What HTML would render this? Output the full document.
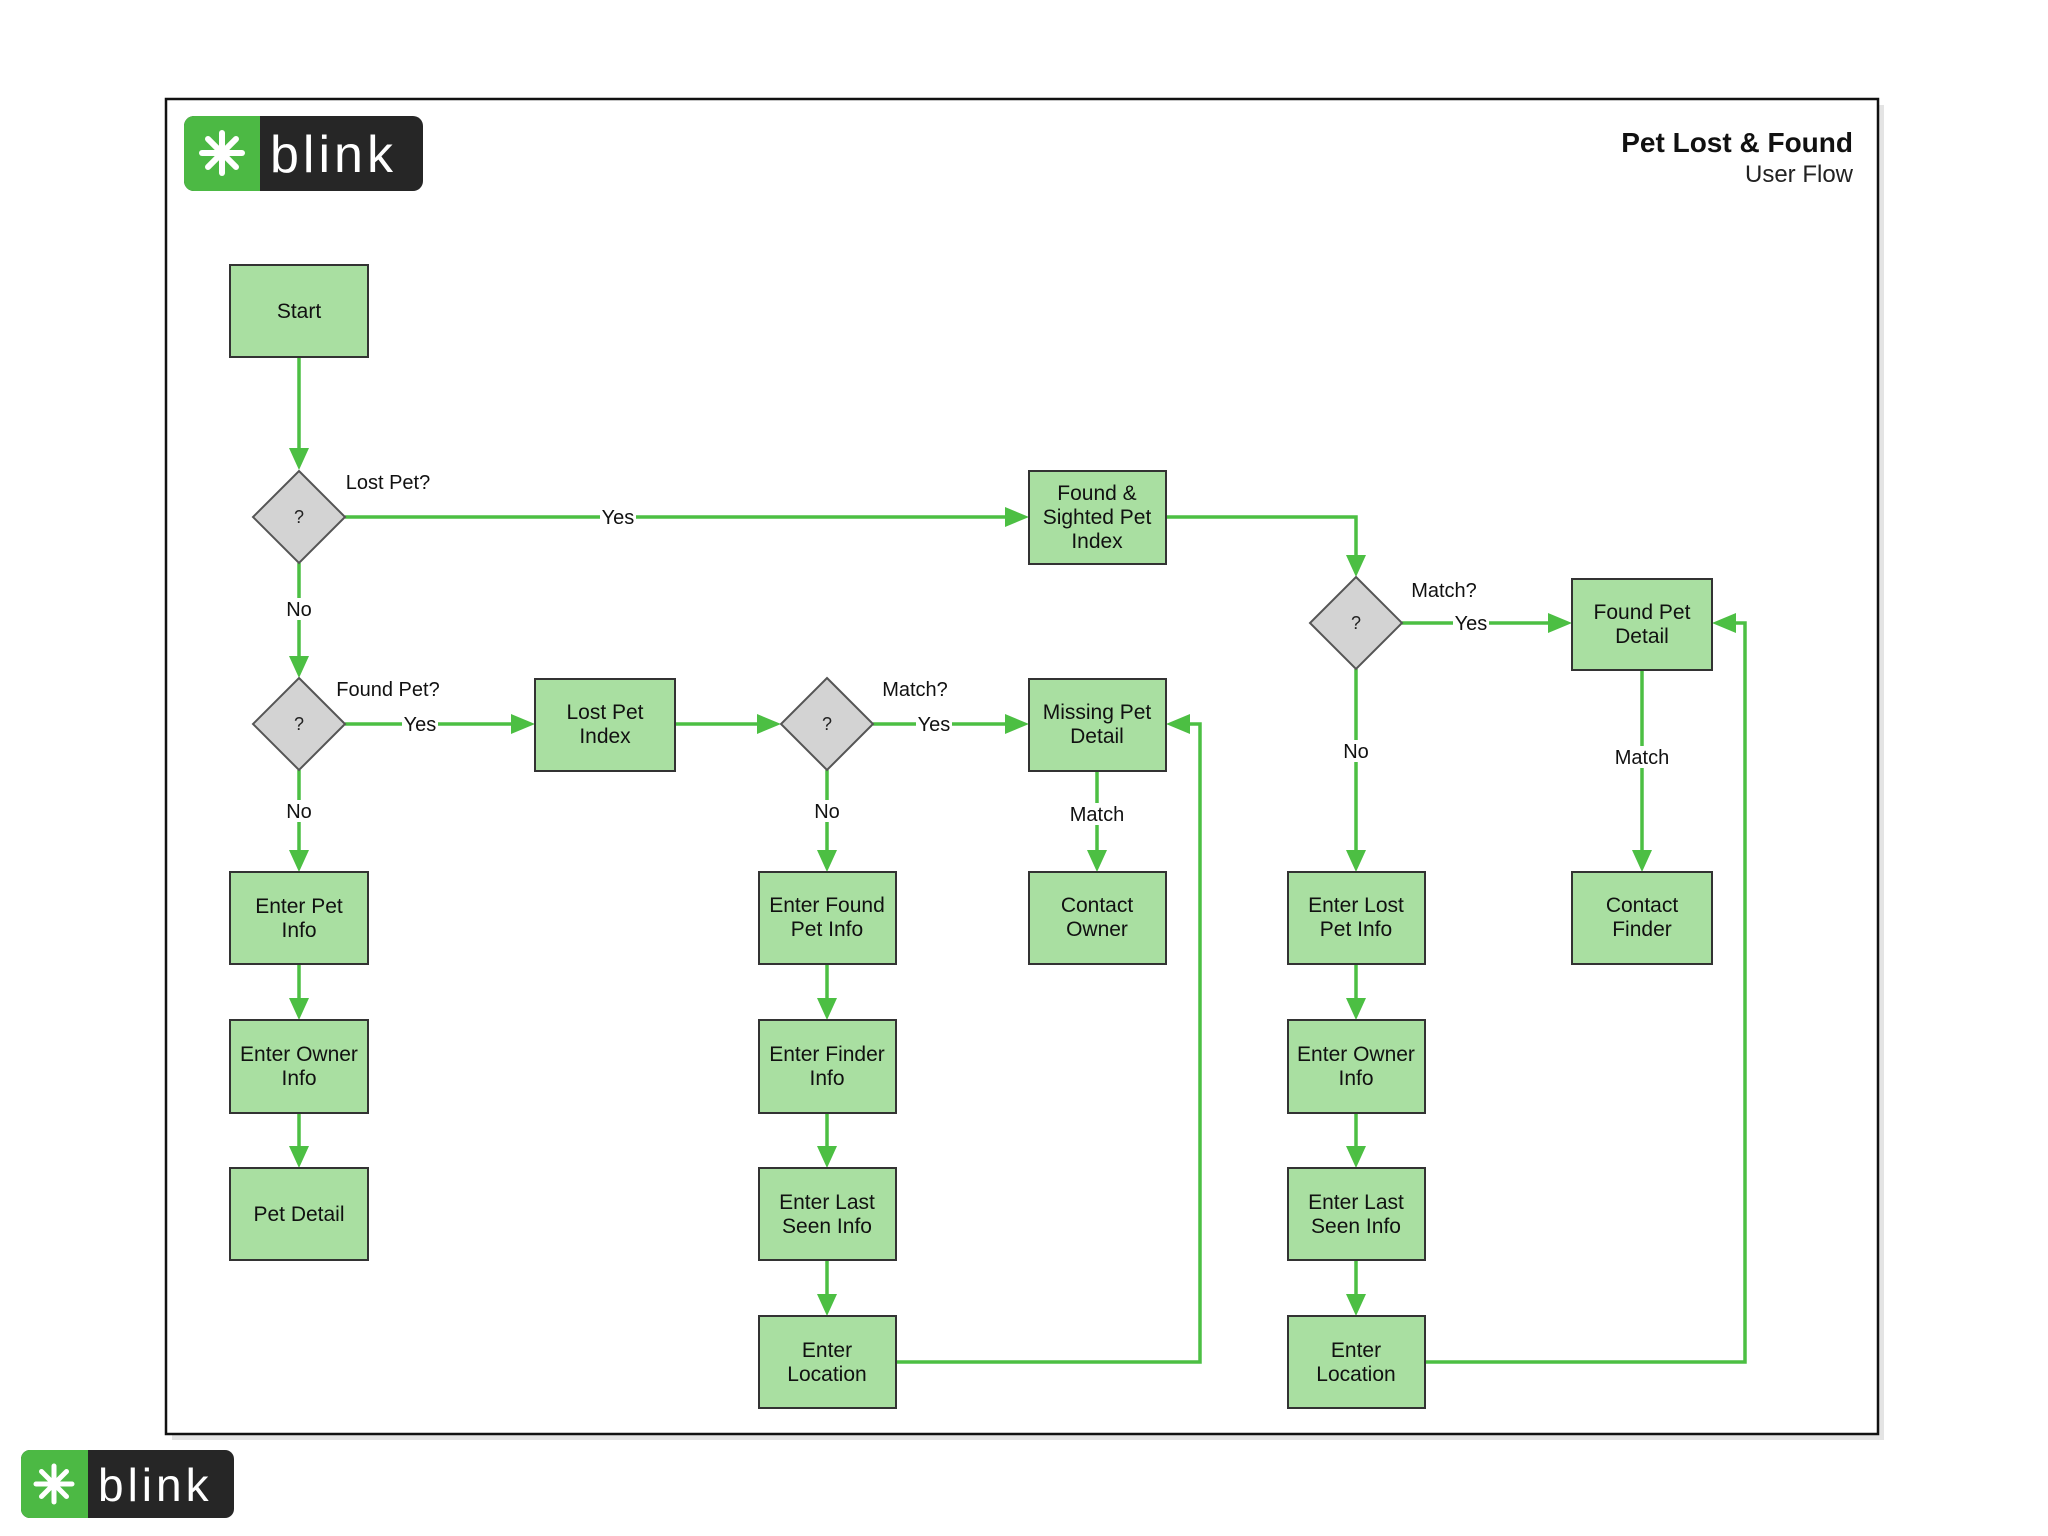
<!DOCTYPE html>
<html><head><meta charset="utf-8"><style>
html,body{margin:0;padding:0;background:#fff;}
svg{display:block;}
text{font-family:"Liberation Sans",sans-serif;}
</style></head><body>
<svg width="2048" height="1536" viewBox="0 0 2048 1536" xmlns="http://www.w3.org/2000/svg">
<defs>
<marker id="a" viewBox="0 0 10 10" refX="9" refY="5" markerWidth="7" markerHeight="7" markerUnits="userSpaceOnUse" orient="auto">
</marker>
</defs>
<rect x="0" y="0" width="2048" height="1536" fill="#fff"/>
<!-- frame shadow -->
<rect x="172" y="105" width="1712" height="1335" fill="#e4e4e4"/>
<rect x="166" y="99" width="1712" height="1335" fill="#fff" stroke="#111" stroke-width="2.5"/>
<!-- logo top -->
<g>
<rect x="184" y="116" width="239" height="75" rx="10" fill="#262626"/>
<path d="M194 116 H260 V191 H194 A10 10 0 0 1 184 181 V126 A10 10 0 0 1 194 116Z" fill="#4cb944"/>
<g stroke="#fff" stroke-width="6" stroke-linecap="round" transform="translate(222,153)">
<line x1="0" y1="-20" x2="0" y2="20"/><line x1="-20" y1="0" x2="20" y2="0"/>
<line x1="-14" y1="-14" x2="14" y2="14"/><line x1="-14" y1="14" x2="14" y2="-14"/>
</g>
<text x="270" y="172" font-size="52" fill="#fff" letter-spacing="4" font-family="DejaVu Sans,sans-serif">blink</text>
</g>
<!-- logo bottom -->
<g>
<rect x="21" y="1450" width="213" height="68" rx="9" fill="#262626"/>
<path d="M30 1450 H88 V1518 H30 A9 9 0 0 1 21 1509 V1459 A9 9 0 0 1 30 1450Z" fill="#4cb944"/>
<g stroke="#fff" stroke-width="5" stroke-linecap="round" transform="translate(54,1484)">
<line x1="0" y1="-18" x2="0" y2="18"/><line x1="-18" y1="0" x2="18" y2="0"/>
<line x1="-12.5" y1="-12.5" x2="12.5" y2="12.5"/><line x1="-12.5" y1="12.5" x2="12.5" y2="-12.5"/>
</g>
<text x="98" y="1501" font-size="46" fill="#fff" letter-spacing="4" font-family="DejaVu Sans,sans-serif">blink</text>
</g>
<!-- title -->
<text x="1853" y="152" font-size="28" font-weight="bold" text-anchor="end" fill="#111">Pet Lost &amp; Found</text>
<text x="1853" y="182" font-size="24" text-anchor="end" fill="#222">User Flow</text>

<!-- connectors -->
<g stroke="#4cbf43" stroke-width="3.5" fill="none">
<path d="M299 357 V462"/>
<path d="M345 517 H1019"/>
<path d="M1166 517 H1356 V567"/>
<path d="M299 563 V668"/>
<path d="M345 724 H525"/>
<path d="M675 724 H771"/>
<path d="M873 724 H1019"/>
<path d="M299 770 V862"/>
<path d="M827 770 V862"/>
<path d="M1097 771 V862"/>
<path d="M1402 623 H1562"/>
<path d="M1356 669 V862"/>
<path d="M1642 670 V862"/>
<path d="M299 964 V1010"/><path d="M299 1113 V1158"/>
<path d="M827 964 V1010"/><path d="M827 1113 V1158"/><path d="M827 1260 V1306"/>
<path d="M1356 964 V1010"/><path d="M1356 1113 V1158"/><path d="M1356 1260 V1306"/>
<path d="M896 1362 H1200 V724 H1176"/>
<path d="M1425 1362 H1745 V623 H1722"/>
</g>
<g fill="#4cbf43">
<!-- down arrows: tip at y -->
<path d="M289 448 L309 448 L299 470Z"/>
<path d="M289 656 L309 656 L299 678Z"/>
<path d="M289 850 L309 850 L299 872Z"/>
<path d="M817 850 L837 850 L827 872Z"/>
<path d="M1087 850 L1107 850 L1097 872Z"/>
<path d="M1346 555 L1366 555 L1356 577Z"/>
<path d="M1346 850 L1366 850 L1356 872Z"/>
<path d="M1632 850 L1652 850 L1642 872Z"/>
<path d="M289 998 L309 998 L299 1020Z"/><path d="M289 1146 L309 1146 L299 1168Z"/>
<path d="M817 998 L837 998 L827 1020Z"/><path d="M817 1146 L837 1146 L827 1168Z"/><path d="M817 1294 L837 1294 L827 1316Z"/>
<path d="M1346 998 L1366 998 L1356 1020Z"/><path d="M1346 1146 L1366 1146 L1356 1168Z"/><path d="M1346 1294 L1366 1294 L1356 1316Z"/>
<!-- right arrows -->
<path d="M1005 507 L1005 527 L1029 517Z"/>
<path d="M511 714 L511 734 L535 724Z"/>
<path d="M757 714 L757 734 L781 724Z"/>
<path d="M1005 714 L1005 734 L1029 724Z"/>
<path d="M1548 613 L1548 633 L1572 623Z"/>
<!-- left arrows -->
<path d="M1190 714 L1190 734 L1166 724Z"/>
<path d="M1736 613 L1736 633 L1712 623Z"/>
</g>

<!-- connector labels -->
<g font-size="20" fill="#111" text-anchor="middle">
<rect x="600" y="505" width="36" height="22" fill="#fff"/><text x="618" y="524">Yes</text>
<rect x="284" y="598" width="30" height="22" fill="#fff"/><text x="299" y="616">No</text>
<rect x="402" y="712" width="36" height="22" fill="#fff"/><text x="420" y="731">Yes</text>
<rect x="916" y="712" width="36" height="22" fill="#fff"/><text x="934" y="731">Yes</text>
<rect x="1453" y="611" width="36" height="22" fill="#fff"/><text x="1471" y="630">Yes</text>
<rect x="284" y="800" width="30" height="22" fill="#fff"/><text x="299" y="818">No</text>
<rect x="812" y="800" width="30" height="22" fill="#fff"/><text x="827" y="818">No</text>
<rect x="1341" y="740" width="30" height="22" fill="#fff"/><text x="1356" y="758">No</text>
<rect x="1068" y="803" width="58" height="22" fill="#fff"/><text x="1097" y="821">Match</text>
<rect x="1613" y="746" width="58" height="22" fill="#fff"/><text x="1642" y="764">Match</text>
<text x="388" y="489">Lost Pet?</text>
<text x="388" y="696">Found Pet?</text>
<text x="915" y="696">Match?</text>
<text x="1444" y="597">Match?</text>
</g>

<!-- diamonds -->
<g fill="#d3d3d3" stroke="#555" stroke-width="2">
<path d="M299 471 L345 517 L299 563 L253 517Z"/>
<path d="M299 678 L345 724 L299 770 L253 724Z"/>
<path d="M827 678 L873 724 L827 770 L781 724Z"/>
<path d="M1356 577 L1402 623 L1356 669 L1310 623Z"/>
</g>
<g font-size="18" fill="#222" text-anchor="middle">
<text x="299" y="523">?</text><text x="299" y="730">?</text><text x="827" y="730">?</text><text x="1356" y="629">?</text>
</g>

<!-- boxes -->
<g fill="#a9dfa1" stroke="#333" stroke-width="2">
<rect x="230" y="265" width="138" height="92"/>
<rect x="1029" y="471" width="137" height="93"/>
<rect x="535" y="679" width="140" height="92"/>
<rect x="1029" y="679" width="137" height="92"/>
<rect x="1572" y="579" width="140" height="91"/>
<rect x="230" y="872" width="138" height="92"/>
<rect x="759" y="872" width="137" height="92"/>
<rect x="1029" y="872" width="137" height="92"/>
<rect x="1288" y="872" width="137" height="92"/>
<rect x="1572" y="872" width="140" height="92"/>
<rect x="230" y="1020" width="138" height="93"/>
<rect x="759" y="1020" width="137" height="93"/>
<rect x="1288" y="1020" width="137" height="93"/>
<rect x="230" y="1168" width="138" height="92"/>
<rect x="759" y="1168" width="137" height="92"/>
<rect x="1288" y="1168" width="137" height="92"/>
<rect x="759" y="1316" width="137" height="92"/>
<rect x="1288" y="1316" width="137" height="92"/>
</g>
<g font-size="21" fill="#111" text-anchor="middle">
<text x="299" y="318">Start</text>
<text x="1097" y="500">Found &amp;</text><text x="1097" y="524">Sighted Pet</text><text x="1097" y="548">Index</text>
<text x="605" y="719">Lost Pet</text><text x="605" y="743">Index</text>
<text x="1097" y="719">Missing Pet</text><text x="1097" y="743">Detail</text>
<text x="1642" y="619">Found Pet</text><text x="1642" y="643">Detail</text>
<text x="299" y="913">Enter Pet</text><text x="299" y="937">Info</text>
<text x="827" y="912">Enter Found</text><text x="827" y="936">Pet Info</text>
<text x="1097" y="912">Contact</text><text x="1097" y="936">Owner</text>
<text x="1356" y="912">Enter Lost</text><text x="1356" y="936">Pet Info</text>
<text x="1642" y="912">Contact</text><text x="1642" y="936">Finder</text>
<text x="299" y="1061">Enter Owner</text><text x="299" y="1085">Info</text>
<text x="827" y="1061">Enter Finder</text><text x="827" y="1085">Info</text>
<text x="1356" y="1061">Enter Owner</text><text x="1356" y="1085">Info</text>
<text x="299" y="1221">Pet Detail</text>
<text x="827" y="1209">Enter Last</text><text x="827" y="1233">Seen Info</text>
<text x="1356" y="1209">Enter Last</text><text x="1356" y="1233">Seen Info</text>
<text x="827" y="1357">Enter</text><text x="827" y="1381">Location</text>
<text x="1356" y="1357">Enter</text><text x="1356" y="1381">Location</text>
</g>
</svg>
</body></html>
